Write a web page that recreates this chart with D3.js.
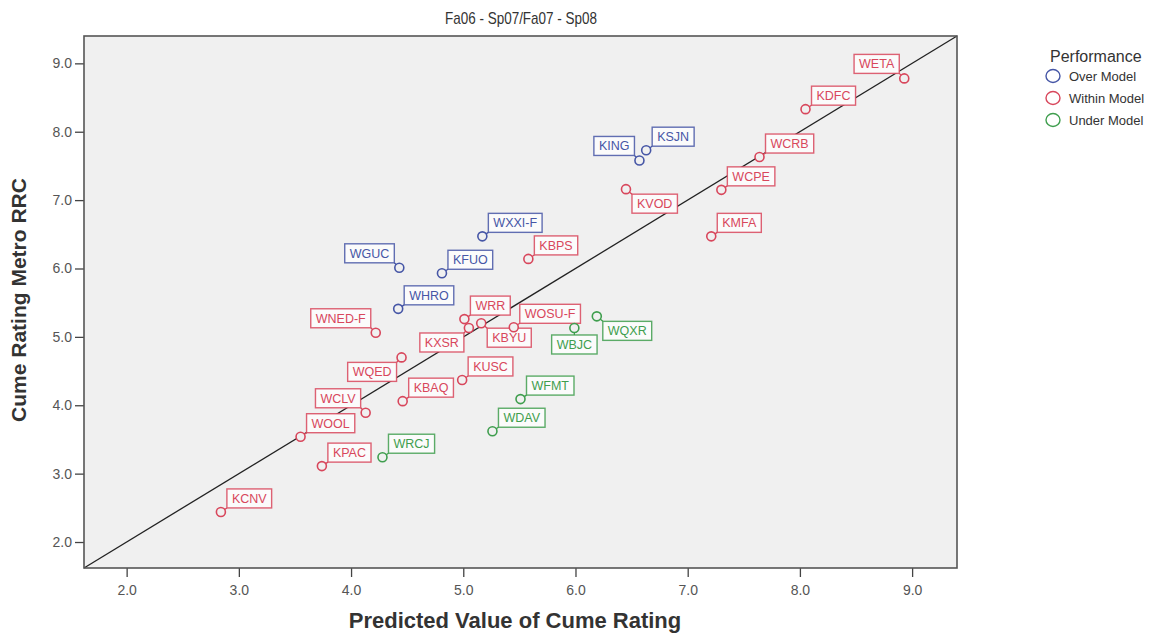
<!DOCTYPE html>
<html>
<head>
<meta charset="utf-8">
<script src="https://cdn.jsdelivr.net/npm/d3@7"></script>
<style>
  body { margin: 0; background: #fff; }
  svg { display: block; font-family: Arial, "Liberation Sans", sans-serif; }
</style>
</head>
<body>
<svg id="chart" width="1176" height="633"></svg>
<script>
const stations = ['WETA', 'KDFC', 'KSJN', 'KING', 'WCRB', 'KVOD', 'WCPE', 'KMFA', 'WXXI-F', 'KBPS',
  'WGUC', 'KFUO', 'WHRO', 'WNED-F', 'WRR', 'KXSR', 'KBYU', 'WOSU-F', 'WQXR', 'WBJC',
  'WQED', 'KUSC', 'KBAQ', 'WFMT', 'WCLV', 'WDAV', 'WOOL', 'WRCJ', 'KPAC', 'KCNV'];
const predicted = [8.93, 8.05, 6.63, 6.57, 7.64, 6.45, 7.30, 7.21, 5.17, 5.58,
  4.43, 4.81, 4.42, 4.22, 5.01, 5.05, 5.16, 5.45, 6.19, 5.99,
  4.45, 4.99, 4.46, 5.51, 4.13, 5.26, 3.55, 4.28, 3.74, 2.84];
const cumeRating = [8.78, 8.33, 7.73, 7.58, 7.63, 7.16, 7.15, 6.47, 6.47, 6.14,
  6.01, 5.93, 5.41, 5.06, 5.26, 5.13, 5.20, 5.14, 5.30, 5.13,
  4.70, 4.37, 4.06, 4.09, 3.89, 3.62, 3.54, 3.24, 3.11, 2.44];
const performance = ['Within', 'Within', 'Over', 'Over', 'Within', 'Within', 'Within', 'Within', 'Over', 'Within',
  'Over', 'Over', 'Over', 'Within', 'Within', 'Within', 'Within', 'Within', 'Under', 'Under',
  'Within', 'Within', 'Within', 'Under', 'Within', 'Under', 'Within', 'Under', 'Within', 'Within'];
// where the label box sits relative to its point
const labelSide = ['ul', 'ur', 'ur', 'ul', 'ur', 'lr', 'ur', 'ur', 'ur', 'ur',
  'ul', 'ur', 'ur', 'ul', 'ur', 'll', 'lr', 'ur', 'lr', 'b',
  'll', 'ur', 'ur', 'ur', 'ul', 'ur', 'ur', 'ur', 'ur', 'ur'];
const groups = ['Over', 'Within', 'Under'];
const groupLabels = ['Over Model', 'Within Model', 'Under Model'];
const ticks = [2, 3, 4, 5, 6, 7, 8, 9];

const color = d3.scaleOrdinal().domain(groups).range(['#4656a6', '#d8475c', '#3f9e4e']);

const svg = d3.select('#chart');
const plot = { left: 84, right: 957, top: 36, bottom: 568 };
const domain = [1.62, 9.4];
const x = d3.scaleLinear().domain(domain).range([plot.left, plot.right]);
const y = d3.scaleLinear().domain(domain).range([plot.bottom, plot.top]);

svg.append('rect')
  .attr('x', plot.left).attr('y', plot.top)
  .attr('width', plot.right - plot.left).attr('height', plot.bottom - plot.top)
  .attr('fill', '#f0f0f0');

// y = x reference line
svg.append('line')
  .attr('x1', x(domain[0])).attr('y1', y(domain[0]))
  .attr('x2', x(domain[1])).attr('y2', y(domain[1]))
  .attr('stroke', '#222').attr('stroke-width', 1.3);

const fmt = d3.format('.1f');
const xAxis = svg.append('g')
  .attr('transform', `translate(0,${plot.bottom})`)
  .call(d3.axisBottom(x).tickValues(ticks).tickFormat(fmt).tickSize(9).tickSizeOuter(0));
const yAxis = svg.append('g')
  .attr('transform', `translate(${plot.left},0)`)
  .call(d3.axisLeft(y).tickValues(ticks).tickFormat(fmt).tickSize(9).tickSizeOuter(0));
[xAxis, yAxis].forEach((g) => {
  g.select('.domain').remove();
  g.selectAll('line').attr('stroke', '#444').attr('stroke-width', 1.3);
  g.selectAll('text').attr('fill', '#555').style('font-size', '14px')
    .style('font-family', 'Arial, "Liberation Sans", sans-serif');
});
xAxis.selectAll('text').attr('dy', '1.05em');
yAxis.selectAll('text').attr('x', -12);

svg.append('rect')
  .attr('x', plot.left).attr('y', plot.top)
  .attr('width', plot.right - plot.left).attr('height', plot.bottom - plot.top)
  .attr('fill', 'none').attr('stroke', '#555').attr('stroke-width', 1.6);

const data = stations.map((name, i) => ({
  name, px: predicted[i], cy: cumeRating[i], perf: performance[i], side: labelSide[i],
}));

const labels = svg.append('g')
  .selectAll('g')
  .data(data)
  .join('g');

labels.each(function (d) {
  const g = d3.select(this);
  const c = color(d.perf);
  const cx = x(d.px), cy = y(d.cy);
  const text = g.append('text')
    .text(d.name)
    .attr('fill', c)
    .style('font-size', '12.5px');
  const w = text.node().getComputedTextLength() + 10;
  const h = 19;
  let bx, by, kx, ky;
  if (d.side === 'ur') { bx = cx + 6; by = cy - 4 - h; kx = bx; ky = by + h; }
  if (d.side === 'ul') { bx = cx - 5 - w; by = cy - 5 - h; kx = bx + w; ky = by + h; }
  if (d.side === 'lr') { bx = cx + 6; by = cy + 5; kx = bx; ky = by; }
  if (d.side === 'll') { bx = cx - 5 - w; by = cy + 5; kx = bx + w; ky = by; }
  if (d.side === 'b') { bx = cx - w / 2; by = cy + 7; kx = cx; ky = by; }
  g.insert('rect', 'text')
    .attr('x', bx).attr('y', by).attr('width', w).attr('height', h)
    .attr('fill', '#fbfbfb').attr('stroke', c).attr('stroke-width', 1.4)
    .attr('stroke-opacity', 0.85);
  text.attr('x', bx + 5).attr('y', by + h / 2).attr('dy', '0.36em');
  g.append('line')
    .attr('x1', cx).attr('y1', cy).attr('x2', kx).attr('y2', ky)
    .attr('stroke', c).attr('stroke-width', 1.3);
  g.append('circle')
    .attr('cx', cx).attr('cy', cy).attr('r', 4.5)
    .attr('fill', '#f0f0f0').attr('stroke', c).attr('stroke-width', 1.6);
});

svg.append('text')
  .attr('x', 521).attr('y', 24)
  .attr('text-anchor', 'middle')
  .attr('fill', '#333')
  .attr('textLength', 152).attr('lengthAdjust', 'spacingAndGlyphs')
  .style('font-size', '17px')
  .style('font-family', '"Liberation Sans Narrow", "Arial Narrow", Arial, sans-serif')
  .text('Fa06 - Sp07/Fa07 - Sp08');

svg.append('text')
  .attr('x', 515).attr('y', 628)
  .attr('text-anchor', 'middle')
  .attr('fill', '#333')
  .style('font-size', '22px').style('font-weight', 'bold')
  .text('Predicted Value of Cume Rating');

svg.append('text')
  .attr('transform', 'translate(26,300) rotate(-90)')
  .attr('text-anchor', 'middle')
  .attr('fill', '#333')
  .style('font-size', '21px').style('font-weight', 'bold')
  .text('Cume Rating Metro RRC');

const legend = svg.append('g').attr('transform', 'translate(1046,0)');
legend.append('text')
  .attr('x', 4).attr('y', 62)
  .attr('fill', '#333')
  .style('font-size', '16px')
  .text('Performance');
const items = legend.selectAll('g.item')
  .data(groups)
  .join('g')
  .attr('class', 'item')
  .attr('transform', (d, i) => `translate(0,${76 + i * 22})`);
items.append('ellipse')
  .attr('cx', 7).attr('cy', 0).attr('rx', 7).attr('ry', 6.5)
  .attr('fill', 'none').attr('stroke', (d) => color(d)).attr('stroke-width', 1.4);
items.append('text')
  .attr('x', 23).attr('y', 0).attr('dy', '0.36em')
  .attr('fill', '#333')
  .style('font-size', '13px')
  .text((d, i) => groupLabels[i]);
</script>
</body>
</html>
